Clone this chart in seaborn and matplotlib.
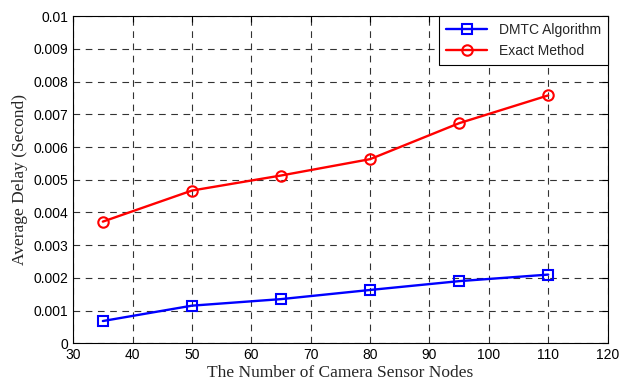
import matplotlib
matplotlib.use("Agg")
import matplotlib.pyplot as plt
import seaborn as sns
import pandas as pd

nodes = [35, 50, 65, 80, 95, 110]
dmtc_delay = [0.00068, 0.00115, 0.00135, 0.00163, 0.0019, 0.0021]
exact_delay = [0.00372, 0.00467, 0.00513, 0.00563, 0.00673, 0.00758]
series_names = ["DMTC Algorithm", "Exact Method"]

df = pd.DataFrame({
    "nodes": nodes * 2,
    "delay": dmtc_delay + exact_delay,
    "method": [series_names[0]] * len(nodes) + [series_names[1]] * len(nodes),
})

sns.set_style("white")
plt.rcParams["font.family"] = ["Liberation Sans", "DejaVu Sans"]

fig = plt.figure(figsize=(6.2, 3.87), dpi=100)
ax = fig.add_axes([0.118, 0.113, 0.862, 0.845])

sns.lineplot(
    data=df, x="nodes", y="delay", hue="method", style="method",
    palette={"DMTC Algorithm": "#0000ff", "Exact Method": "#ff0000"},
    markers={"DMTC Algorithm": "s", "Exact Method": "o"},
    dashes=False, markersize=7.5, markerfacecolor="none",
    markeredgewidth=1.5, linewidth=1.7, ax=ax,
)
for line in ax.lines:
    line.set_markeredgecolor(line.get_color())
    line.set_markerfacecolor("none")

ax.set_xlim(30, 120)
ax.set_ylim(0, 0.01)
ax.set_xticks(range(30, 121, 10))
ax.set_yticks([i / 1000 for i in range(0, 11)])
ax.set_yticklabels(["0"] + [f"{i/1000:.3f}" for i in range(1, 10)] + ["0.01"])

ax.grid(True, color="#333333", linestyle=(0, (6, 5)), linewidth=0.8)
ax.tick_params(direction="in", top=True, right=True, length=4, labelsize=10, colors="black")
for s in ax.spines.values():
    s.set_color("black")
    s.set_linewidth(0.8)

ax.set_xlabel("The Number of Camera Sensor Nodes", family="Liberation Serif", fontsize=12.5, labelpad=2)
ax.set_ylabel("Average Delay (Second)", family="Liberation Serif", fontsize=12.5, labelpad=4)

leg = ax.legend(loc="upper right", fontsize=10, frameon=True, fancybox=False,
                borderaxespad=0, handlelength=3, borderpad=0.5, labelspacing=0.5)
leg.get_frame().set_edgecolor("black")
leg.get_frame().set_linewidth(0.8)
leg.get_frame().set_alpha(1)
leg.set_title(None)

fig.savefig("out.png", dpi=100, facecolor="white")
